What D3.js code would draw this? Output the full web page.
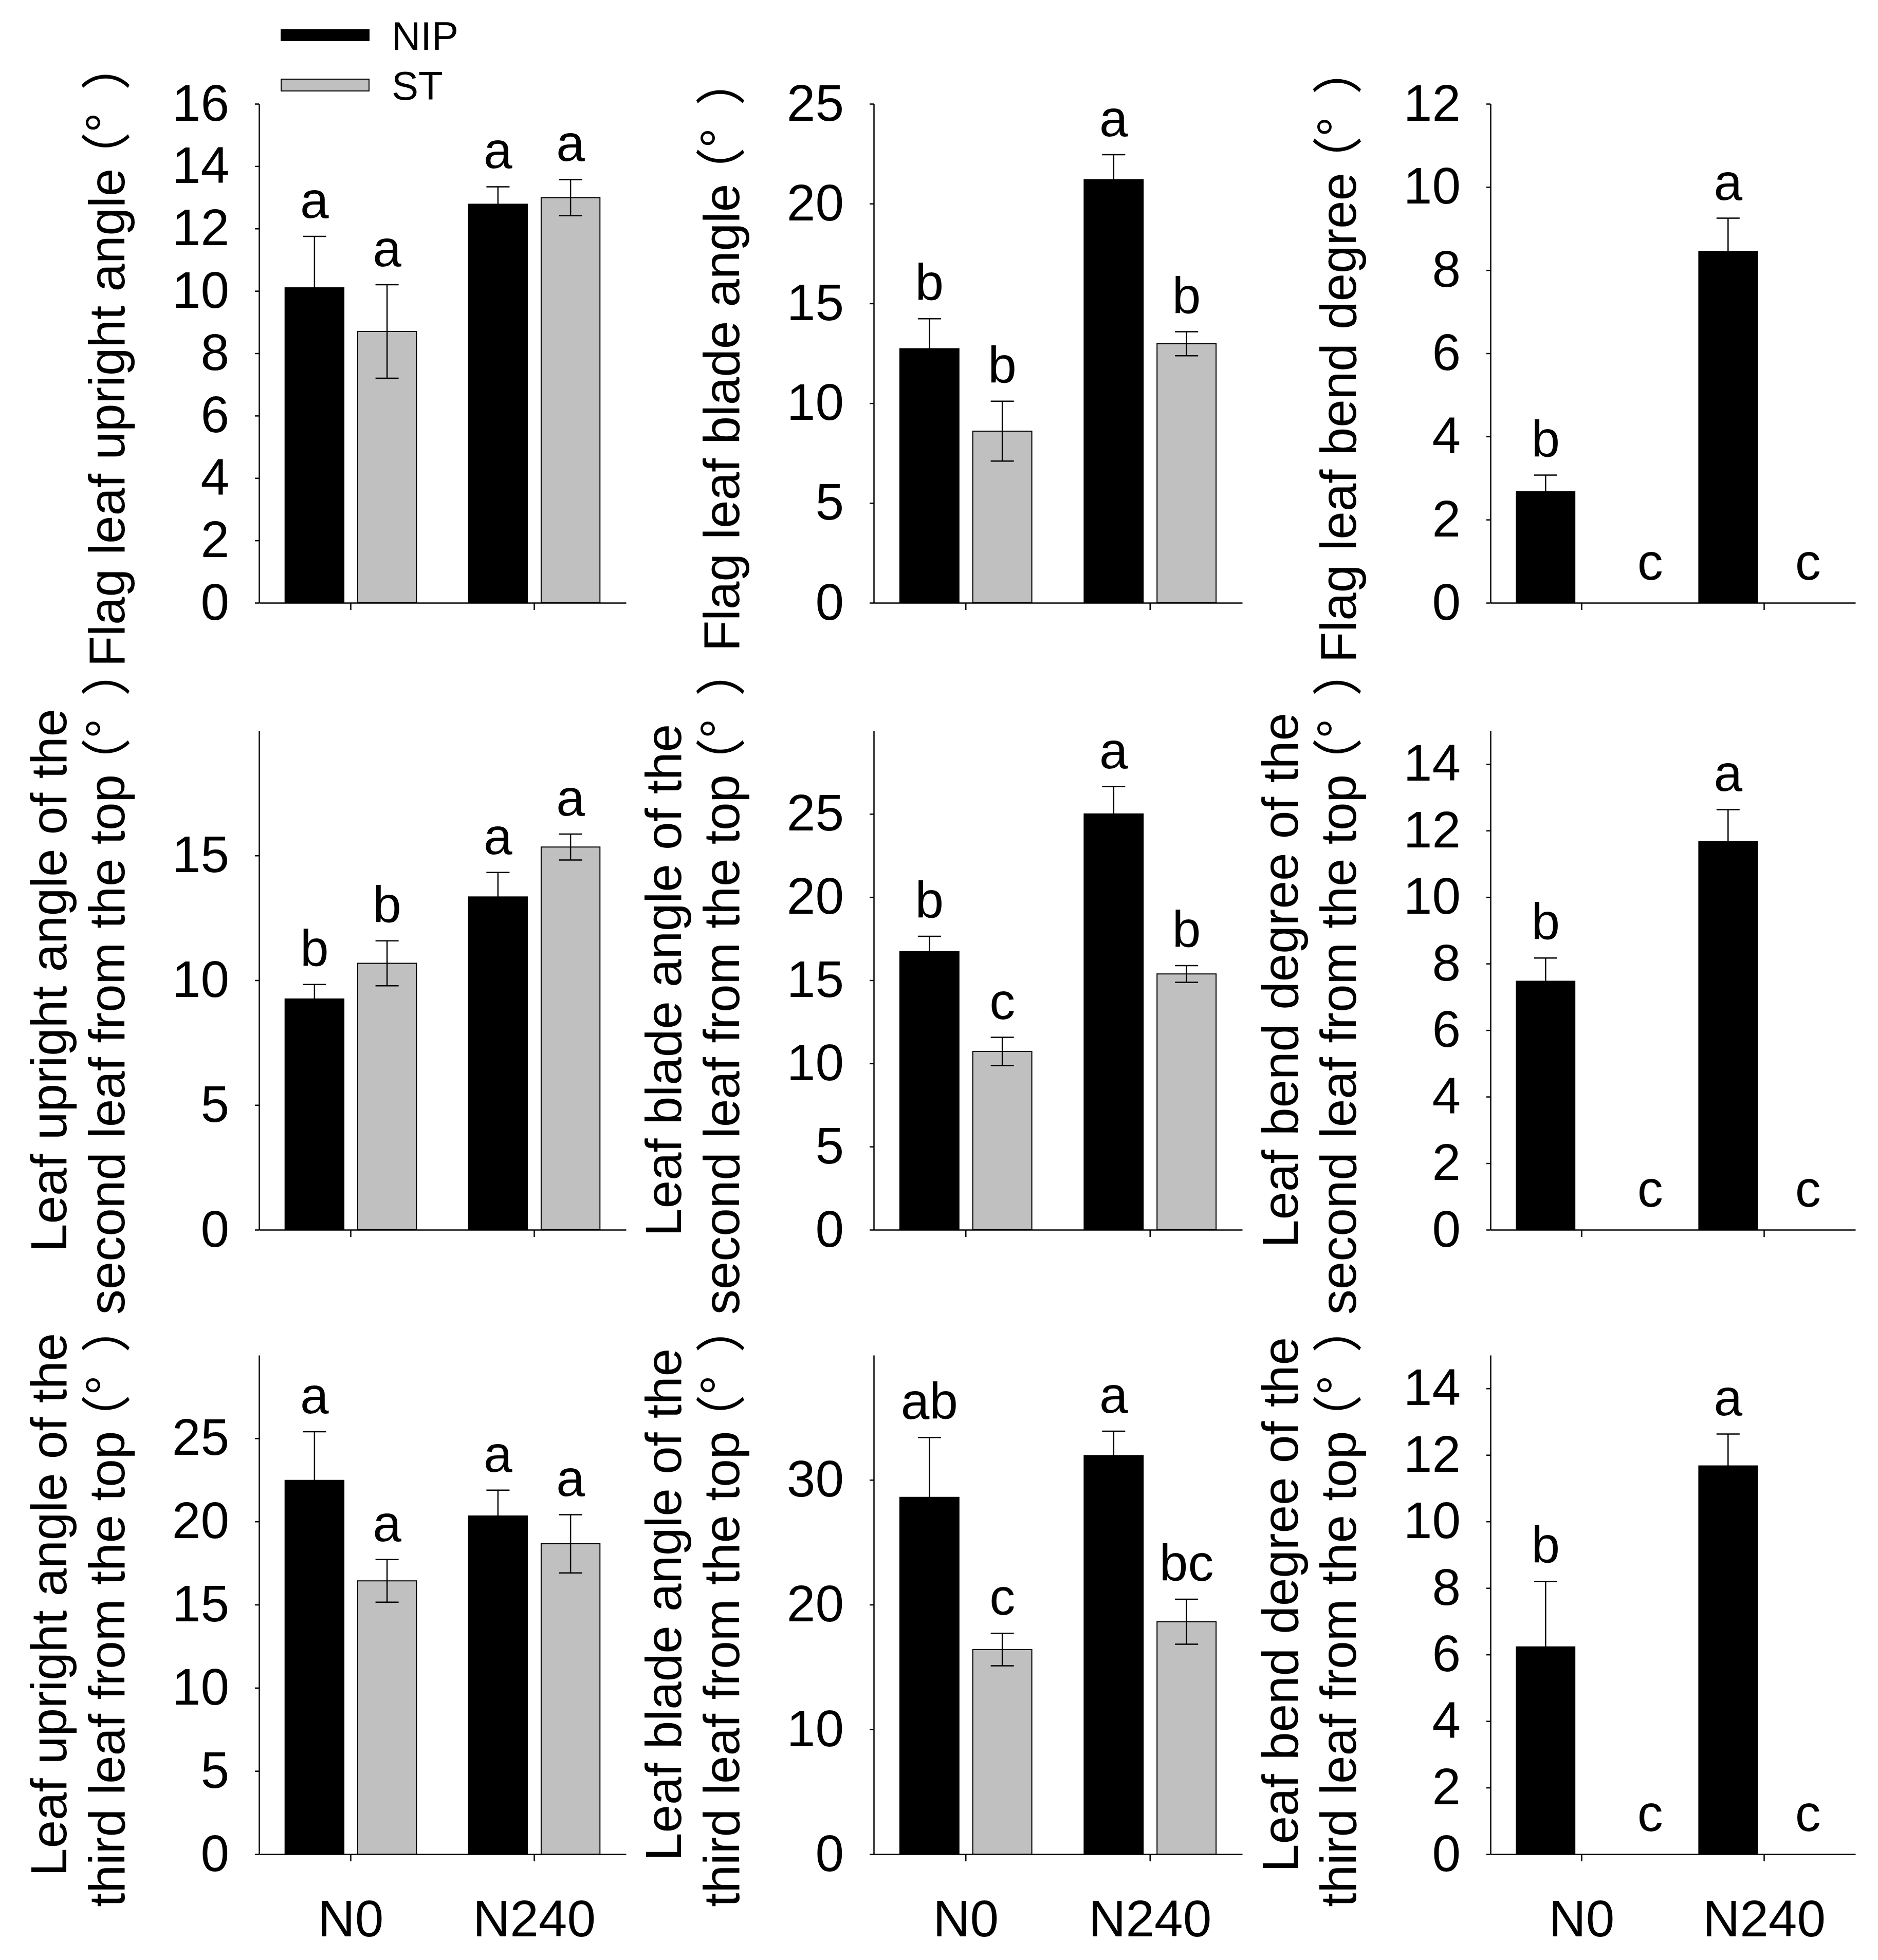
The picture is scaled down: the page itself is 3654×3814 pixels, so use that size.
<!DOCTYPE html>
<html>
<head>
<meta charset="utf-8">
<script src="https://cdn.jsdelivr.net/npm/d3@7"></script>
<style>
  body { margin: 0; background: #fff; }
  svg { display: block; }
</style>
</head>
<body>
<div id="chart"></div>
<script>
// 数据
const categories = ['N0', 'N240'];
const series = ['NIP', 'ST'];

// panels in reading order: row by row, left to right
const yLabels = [
  ['Flag leaf upright angle（°）'],
  ['Flag leaf blade angle（°）'],
  ['Flag leaf bend degree（°）'],
  ['Leaf upright angle of the', 'second leaf from the top（°）'],
  ['Leaf blade angle of the', 'second leaf from the top（°）'],
  ['Leaf bend degree of the', 'second leaf from the top（°）'],
  ['Leaf upright angle of the', 'third leaf from the top（°）'],
  ['Leaf blade angle of the', 'third leaf from the top（°）'],
  ['Leaf bend degree of the', 'third leaf from the top（°）']
];

const yMax = [16, 25, 12, 20, 30, 15, 30, 40, 15];
const yTicks = [
  [0, 2, 4, 6, 8, 10, 12, 14, 16],
  [0, 5, 10, 15, 20, 25],
  [0, 2, 4, 6, 8, 10, 12],
  [0, 5, 10, 15],
  [0, 5, 10, 15, 20, 25],
  [0, 2, 4, 6, 8, 10, 12, 14],
  [0, 5, 10, 15, 20, 25],
  [0, 10, 20, 30],
  [0, 2, 4, 6, 8, 10, 12, 14]
];

// [N0, N240]
const nipMeans = [[10.1, 12.78], [12.73, 21.2], [2.67, 8.45], [9.25, 13.34], [16.72, 25.0], [7.47, 11.67], [22.47, 20.33], [28.6, 31.95], [6.23, 11.67]];
const nipErrors = [[1.65, 0.56], [1.5, 1.25], [0.4, 0.8], [0.58, 0.98], [0.92, 1.64], [0.7, 0.96], [2.93, 1.55], [4.8, 1.95], [1.97, 0.96]];
const stMeans = [[8.7, 12.99], [8.6, 12.98], [0, 0], [10.68, 15.34], [10.72, 15.38], [0, 0], [16.43, 18.66], [16.4, 18.63], [0, 0]];
const stErrors = [[1.5, 0.58], [1.5, 0.6], [0, 0], [0.9, 0.52], [0.85, 0.5], [0, 0], [1.28, 1.75], [1.3, 1.8], [0, 0]];
const nipLetters = [['a', 'a'], ['b', 'a'], ['b', 'a'], ['b', 'a'], ['b', 'a'], ['b', 'a'], ['a', 'a'], ['ab', 'a'], ['b', 'a']];
const stLetters = [['a', 'a'], ['b', 'b'], ['c', 'c'], ['b', 'a'], ['c', 'b'], ['c', 'c'], ['a', 'a'], ['c', 'bc'], ['c', 'c']];

// 布局
const width = 3654;
const height = 3814;
const colX = [504, 1700, 2900];
const colW = [714, 717, 710];
const rowTop = [202, 1422, 2637];
const plotH = 971;
const font = '"Liberation Sans", Arial, sans-serif';
const cjkFont = '"Noto Sans CJK SC", "Noto Sans CJK JP", sans-serif';
const grey = '#c0c0c0';

const svg = d3.select('#chart').append('svg')
  .attr('width', width)
  .attr('height', height)
  .attr('viewBox', `0 0 ${width} ${height}`);

svg.append('rect').attr('width', width).attr('height', height).attr('fill', '#fff');

yLabels.forEach((lines, p) => {
  const col = p % 3;
  const row = Math.floor(p / 3);
  const W = colW[col];
  const g = svg.append('g').attr('transform', `translate(${colX[col]},${rowTop[row]})`);

  const y = d3.scaleLinear().domain([0, yMax[p]]).range([plotH, 0]);
  const x0 = d3.scaleBand().domain(categories).range([0, W]).paddingInner(0.284).paddingOuter(0.142);
  const x1 = d3.scaleBand().domain(series).range([0, x0.bandwidth()]).paddingInner(0.19);

  // y 轴
  const yAxis = g.append('g')
    .call(d3.axisLeft(y).tickValues(yTicks[p]).tickSize(8).tickSizeOuter(0).tickPadding(50));
  yAxis.selectAll('path, line').attr('stroke', '#000').attr('stroke-width', 2.5);
  yAxis.selectAll('text').attr('font-family', font).attr('font-size', 100).attr('fill', '#000');

  // x 轴
  const xAxis = g.append('g')
    .attr('transform', `translate(0,${plotH})`)
    .call(d3.axisBottom(x0).tickSize(14).tickSizeOuter(0).tickPadding(75));
  xAxis.selectAll('path, line').attr('stroke', '#000').attr('stroke-width', 2.5);
  xAxis.selectAll('text')
    .attr('font-family', font).attr('font-size', 100).attr('fill', '#000')
    .style('display', row === 2 ? null : 'none');

  const data = [];
  categories.forEach((c, i) => {
    data.push({ cat: c, s: 'NIP', m: nipMeans[p][i], e: nipErrors[p][i], t: nipLetters[p][i] });
    data.push({ cat: c, s: 'ST', m: stMeans[p][i], e: stErrors[p][i], t: stLetters[p][i] });
  });

  // 柱子
  g.append('g').selectAll('rect')
    .data(data.filter(d => d.m > 0))
    .enter()
    .append('rect')
    .attr('x', d => x0(d.cat) + x1(d.s))
    .attr('width', x1.bandwidth())
    .attr('y', d => y(d.m))
    .attr('height', d => plotH - y(d.m))
    .attr('fill', d => d.s === 'NIP' ? '#000' : grey)
    .attr('stroke', '#000')
    .attr('stroke-width', 2);

  // 误差线
  const capW = 45;
  const err = g.append('g').selectAll('g')
    .data(data.filter(d => d.m > 0))
    .enter()
    .append('g')
    .attr('transform', d => `translate(${x0(d.cat) + x1(d.s) + x1.bandwidth() / 2},0)`)
    .attr('stroke', '#000')
    .attr('stroke-width', 2.5);
  err.append('line').attr('y1', d => y(d.m - d.e)).attr('y2', d => y(d.m + d.e));
  err.append('line').attr('x1', -capW / 2).attr('x2', capW / 2).attr('y1', d => y(d.m + d.e)).attr('y2', d => y(d.m + d.e));
  err.append('line').attr('x1', -capW / 2).attr('x2', capW / 2).attr('y1', d => y(d.m - d.e)).attr('y2', d => y(d.m - d.e));

  // 显著性字母
  g.append('g').selectAll('text')
    .data(data)
    .enter()
    .append('text')
    .attr('x', d => {
      const cx = x0(d.cat) + x1(d.s) + x1.bandwidth() / 2;
      if (d.m > 0) return cx;
      return cx + (d.cat === 'N0' ? 63 : 15);
    })
    .attr('y', d => d.m > 0 ? y(d.m + d.e) - 36 : plotH - 45)
    .attr('text-anchor', 'middle')
    .attr('font-family', font)
    .attr('font-size', 100)
    .text(d => d.t);

  // y 轴标题, 单位部分用中文字体
  const offsets = lines.length === 1 ? [-262] : [-375, -262];
  lines.forEach((line, k) => {
    const t = g.append('text')
      .attr('transform', `translate(${offsets[k]},${plotH / 2}) rotate(-90)`)
      .attr('text-anchor', 'middle')
      .attr('font-family', font)
      .attr('font-size', 98);
    const idx = line.indexOf('（');
    if (idx < 0) {
      t.text(line);
    } else {
      const unit = line.slice(idx);
      t.append('tspan').text(line.slice(0, idx));
      t.append('tspan').attr('font-family', cjkFont).attr('dx', -27).text(unit.slice(0, 1));
      t.append('tspan').attr('font-family', cjkFont).text(unit.slice(1, -1));
      t.append('tspan').attr('font-family', cjkFont).attr('dx', 45).text(unit.slice(-1));
    }
  });
});

// 图例
const legend = svg.append('g');
const legendRows = [
  { name: series[0], y: 58, h: 21, fill: '#000' },
  { name: series[1], y: 154, h: 23, fill: grey }
];
legendRows.forEach(d => {
  legend.append('rect')
    .attr('x', 547).attr('y', d.y).attr('width', 171).attr('height', d.h)
    .attr('fill', d.fill).attr('stroke', '#000').attr('stroke-width', 2);
  legend.append('text')
    .attr('x', 762).attr('y', d.y + d.h / 2 + 28)
    .attr('font-family', font).attr('font-size', 78)
    .text(d.name);
});
</script>
</body>
</html>
